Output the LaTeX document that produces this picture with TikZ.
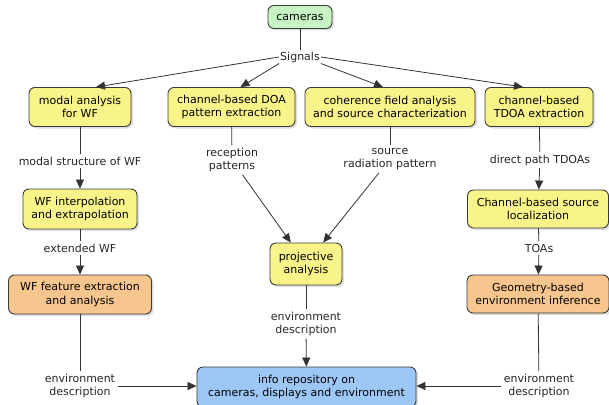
\documentclass[tikz,border=0pt]{standalone}
\usepackage{fontspec}
\setmainfont{DejaVu Sans}
\usepackage{tikz}
\usetikzlibrary{arrows.meta, shadows}

\definecolor{cgreen}{HTML}{C8F4C4}
\definecolor{cyellow}{HTML}{F9F48A}
\definecolor{corange}{HTML}{F7C68E}
\definecolor{cblue}{HTML}{9DC7F6}
\definecolor{cedge}{HTML}{3A3A3A}

\begin{document}
\begin{tikzpicture}[x=1pt, y=-1pt,
	font=\fontsize{11}{13.5}\selectfont,
	box/.style={draw=cedge, line width=0.9pt, rounded corners=6pt, align=center, inner sep=2pt,
		drop shadow={shadow xshift=2pt, shadow yshift=-2pt, opacity=0.25}},
	lbl/.style={align=center, inner sep=2.5pt, text=black!85},
	link/.style={draw=black!80, line width=0.8pt},
	arr/.style={link, -{Triangle[length=9pt, width=8pt]}}]
	\useasboundingbox (0,0) rectangle (609,404);

	\node[box, fill=cgreen, minimum width=64pt, minimum height=23pt] (cam) at (300,17) {cameras};
	\node[lbl, inner sep=1pt] (sig) at (300,57) {Signals};

	\node[box, fill=cyellow, minimum width=102pt, minimum height=39pt] (modal) at (80,107) {modal analysis\\for WF};
	\node[box, fill=cyellow, minimum width=127pt, minimum height=39pt] (doa) at (231.5,107) {channel-based DOA\\pattern extraction};
	\node[box, fill=cyellow, minimum width=170pt, minimum height=39pt] (coh) at (390,107) {coherence field analysis\\and source characterization};
	\node[box, fill=cyellow, minimum width=108pt, minimum height=39pt] (tdoa) at (539,107) {channel-based\\TDOA extraction};

	\node[lbl] (lmodal) at (80,161) {modal structure of WF};
	\node[lbl] (lrec) at (232,160) {reception\\patterns};
	\node[lbl] (lsrc) at (390,159) {source\\radiation pattern};
	\node[lbl] (ltdoa) at (540,160) {direct path TDOAs};

	\node[box, fill=cyellow, minimum width=114pt, minimum height=40pt] (interp) at (80,209) {WF interpolation\\and extrapolation};
	\node[box, fill=cyellow, minimum width=141pt, minimum height=38pt] (loc) at (538,209) {Channel-based source\\localization};

	\node[lbl] (lext) at (80,248) {extended WF};
	\node[lbl] (ltoa) at (539,248) {TOAs};

	\node[box, fill=cyellow, minimum width=72pt, minimum height=42pt] (proj) at (306,264) {projective\\analysis};
	\node[box, fill=corange, minimum width=143pt, minimum height=39pt] (feat) at (80,294.5) {WF feature extraction\\and analysis};
	\node[box, fill=corange, minimum width=142pt, minimum height=38pt] (geo) at (538,294) {Geometry-based\\environment inference};

	\node[lbl] (lenvm) at (306,324) {environment\\description};
	\node[lbl] (lenvl) at (80,386) {environment\\description};
	\node[lbl] (lenvr) at (539,386) {environment\\description};

	\node[box, fill=cblue, minimum width=219pt, minimum height=40pt] (repo) at (306.5,387) {info repository on\\cameras, displays and environment};

	\draw[link] (cam) -- (sig);
	\draw[arr] (sig.west) -- ([xshift=16pt]modal.north);
	\draw[arr] (sig.south west) -- ([xshift=9pt]doa.north);
	\draw[arr] (sig.south east) -- ([xshift=-7pt]coh.north);
	\draw[arr] (sig.east) -- ([xshift=-16pt]tdoa.north);

	\draw[link] (modal) -- (lmodal);
	\draw[arr] (lmodal) -- (interp);
	\draw[link] (interp) -- (lext);
	\draw[arr] (lext) -- (feat);
	\draw[link] (feat) -- (lenvl);
	\draw[arr] (lenvl) -- (repo.west |- lenvl);

	\draw[link] (doa) -- (lrec);
	\draw[arr] (lrec) -- (proj);
	\draw[link] (coh) -- (lsrc);
	\draw[arr] (lsrc) -- (proj);
	\draw[link] (proj) -- (lenvm);
	\draw[arr] (lenvm) -- (repo);

	\draw[link] (tdoa) -- (ltdoa);
	\draw[arr] (ltdoa) -- (loc);
	\draw[link] (loc) -- (ltoa);
	\draw[arr] (ltoa) -- (geo);
	\draw[link] (geo) -- (lenvr);
	\draw[arr] (lenvr) -- (repo.east |- lenvr);
\end{tikzpicture}
\end{document}
